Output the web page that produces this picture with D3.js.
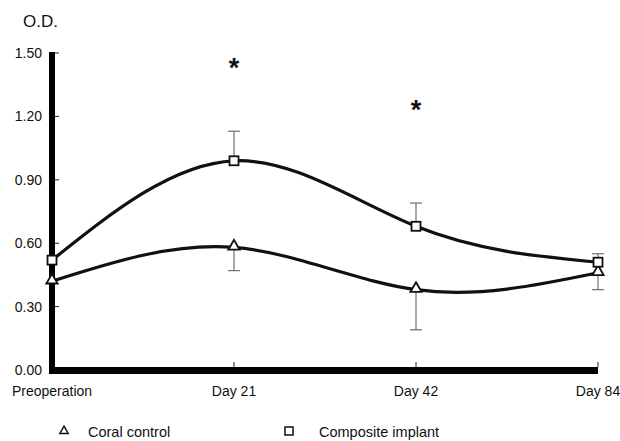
<!DOCTYPE html>
<html>
<head>
<meta charset="utf-8">
<script src="https://cdn.jsdelivr.net/npm/d3@7"></script>
<style>
  body { margin: 0; background: #fff; }
  svg text { font-family: "Liberation Sans", Arial, sans-serif; fill: #111; }
</style>
</head>
<body>
<div id="chart"></div>
<script>
// data
const categories = ["Preoperation", "Day 21", "Day 42", "Day 84"];
const coralValues = [0.42, 0.58, 0.38, 0.46];
const coralErrLow = [null, 0.47, 0.19, 0.38];
const compositeValues = [0.52, 0.99, 0.68, 0.51];
const compositeErrHigh = [null, 1.13, 0.79, 0.55];
const yTicks = [0, 0.3, 0.6, 0.9, 1.2, 1.5];
const starAt = [{ cat: "Day 21", v: 1.45 }, { cat: "Day 42", v: 1.25 }];

const width = 620, height = 441;

const svg = d3.select("#chart").append("svg")
  .attr("width", width)
  .attr("height", height);

const x = d3.scalePoint()
  .domain(categories)
  .range([52, 598]);

const y = d3.scaleLinear()
  .domain([0, 1.5])
  .range([370, 53]);

// y tick labels + short inner ticks
svg.append("g")
  .selectAll("text")
  .data(yTicks)
  .enter().append("text")
  .attr("x", 42)
  .attr("y", d => y(d) + 5)
  .attr("text-anchor", "end")
  .attr("font-size", "14px")
  .text(d => d.toFixed(2));

svg.append("g")
  .selectAll("line")
  .data(yTicks.slice(1))
  .enter().append("line")
  .attr("x1", 55).attr("x2", 59)
  .attr("y1", d => y(d)).attr("y2", d => y(d))
  .attr("stroke", "#222").attr("stroke-width", 1);

// x ticks (upward)
svg.append("g")
  .selectAll("line")
  .data(categories.slice(1))
  .enter().append("line")
  .attr("x1", d => x(d)).attr("x2", d => x(d))
  .attr("y1", 367).attr("y2", 362)
  .attr("stroke", "#222").attr("stroke-width", 1);

// thick axes
svg.append("line")
  .attr("x1", 52).attr("x2", 52)
  .attr("y1", 52).attr("y2", 374)
  .attr("stroke", "#000").attr("stroke-width", 6);
svg.append("line")
  .attr("x1", 49).attr("x2", 598)
  .attr("y1", 370.5).attr("y2", 370.5)
  .attr("stroke", "#000").attr("stroke-width", 7);

// x labels
svg.append("g")
  .selectAll("text")
  .data(categories)
  .enter().append("text")
  .attr("x", d => x(d))
  .attr("y", 396)
  .attr("text-anchor", "middle")
  .attr("font-size", "14px")
  .text(d => d);

// O.D. label
svg.append("text")
  .attr("x", 23)
  .attr("y", 27)
  .attr("font-size", "17px")
  .text("O.D.");

// error bars
function errBars(vals, ends) {
  const g = svg.append("g").attr("stroke", "#555").attr("stroke-width", 1);
  categories.forEach((c, i) => {
    if (ends[i] == null) return;
    g.append("line")
      .attr("x1", x(c)).attr("x2", x(c))
      .attr("y1", y(vals[i])).attr("y2", y(ends[i]));
    g.append("line")
      .attr("x1", x(c) - 6).attr("x2", x(c) + 6)
      .attr("y1", y(ends[i])).attr("y2", y(ends[i]));
  });
}
errBars(compositeValues, compositeErrHigh);
errBars(coralValues, coralErrLow);

// curves
const line = d3.line()
  .x((d, i) => x(categories[i]))
  .y(d => y(d))
  .curve(d3.curveNatural);

[coralValues, compositeValues].forEach(vals => {
  svg.append("path")
    .attr("d", line(vals))
    .attr("fill", "none")
    .attr("stroke", "#111")
    .attr("stroke-width", 3.2);
});

// markers
const tri = d3.symbol().type(d3.symbolTriangle).size(55);
svg.append("g")
  .selectAll("path")
  .data(coralValues)
  .enter().append("path")
  .attr("d", tri)
  .attr("transform", (d, i) => `translate(${x(categories[i])},${y(d) - 1})`)
  .attr("fill", "#fff")
  .attr("stroke", "#111")
  .attr("stroke-width", 1.8);

svg.append("g")
  .selectAll("rect")
  .data(compositeValues)
  .enter().append("rect")
  .attr("x", (d, i) => x(categories[i]) - 4.5)
  .attr("y", d => y(d) - 4.5)
  .attr("width", 9)
  .attr("height", 9)
  .attr("fill", "#fff")
  .attr("stroke", "#111")
  .attr("stroke-width", 1.8);

// significance stars
svg.append("g")
  .selectAll("text")
  .data(starAt)
  .enter().append("text")
  .attr("x", d => x(d.cat))
  .attr("y", d => y(d.v) + 13)
  .attr("text-anchor", "middle")
  .attr("font-size", "27px")
  .attr("font-weight", "bold")
  .text("*");

// legend
const legend = svg.append("g");
legend.append("path")
  .attr("d", d3.symbol().type(d3.symbolTriangle).size(30))
  .attr("transform", "translate(64,431)")
  .attr("fill", "#fff")
  .attr("stroke", "#111")
  .attr("stroke-width", 1.5);
legend.append("text")
  .attr("x", 88).attr("y", 437)
  .attr("font-size", "14.5px")
  .text("Coral control");
legend.append("rect")
  .attr("x", 285).attr("y", 427)
  .attr("width", 8).attr("height", 8)
  .attr("fill", "#fff")
  .attr("stroke", "#111")
  .attr("stroke-width", 1.5);
legend.append("text")
  .attr("x", 319).attr("y", 437)
  .attr("font-size", "14.5px")
  .text("Composite implant");
</script>
</body>
</html>
